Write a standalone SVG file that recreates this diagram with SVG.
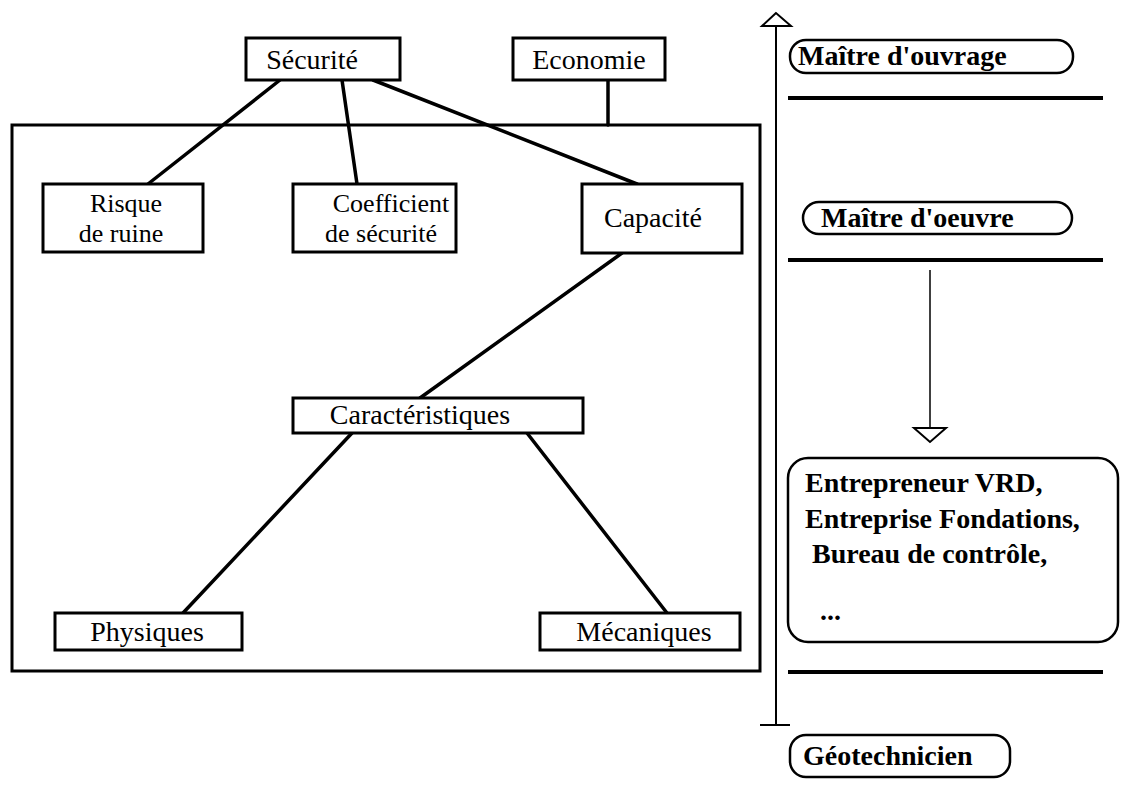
<svg xmlns="http://www.w3.org/2000/svg" width="1121" height="809" viewBox="0 0 1121 809">
<style>
.box{fill:#fff;stroke:#000;stroke-width:3}
.t{font-family:"Liberation Serif","Times New Roman",serif;font-size:28px;fill:#000}
.t2{font-family:"Liberation Serif","Times New Roman",serif;font-size:26px;fill:#000}
.b{font-family:"Liberation Serif","Times New Roman",serif;font-size:28px;font-weight:bold;fill:#000}
.ln{stroke:#000;stroke-width:3.5;fill:none;stroke-linecap:round}
.sep{stroke:#000;stroke-width:4;fill:none}
.pill{fill:#fff;stroke:#000;stroke-width:2.5}
</style>
<rect width="1121" height="809" fill="#fff"/>
<rect id="frame" x="12" y="125" width="748" height="546" fill="none" stroke="#000" stroke-width="3"/>
<g id="connectors">
<line class="ln" x1="280" y1="80" x2="148" y2="184"/>
<line class="ln" x1="342" y1="80" x2="357" y2="184"/>
<line class="ln" x1="373" y1="80" x2="637" y2="184"/>
<line class="ln" x1="608" y1="80" x2="608" y2="125"/>
<line class="ln" x1="622" y1="253" x2="420" y2="398"/>
<line class="ln" x1="352" y1="433" x2="183" y2="613"/>
<line class="ln" x1="527" y1="433" x2="667" y2="613"/>
</g>
<g id="securite"><rect class="box" x="246" y="38" width="154" height="42"/><text class="t" x="312" y="69" text-anchor="middle">Sécurité</text></g>
<g id="economie"><rect class="box" x="513" y="38" width="152" height="42"/><text class="t" x="589" y="69" text-anchor="middle">Economie</text></g>
<g id="risque"><rect class="box" x="43" y="184" width="160" height="68"/><text class="t2" x="126" y="212" text-anchor="middle">Risque</text><text class="t2" x="121" y="242" text-anchor="middle">de ruine</text></g>
<g id="coefficient"><rect class="box" x="293" y="184" width="163" height="68"/><text class="t2" x="391" y="212" text-anchor="middle">Coefficient</text><text class="t2" x="381" y="242" text-anchor="middle">de sécurité</text></g>
<g id="capacite"><rect class="box" x="582" y="184" width="160" height="69"/><text class="t" x="653" y="227" text-anchor="middle">Capacité</text></g>
<g id="caracteristiques"><rect class="box" x="293" y="398" width="290" height="35"/><text class="t" x="420" y="424" text-anchor="middle">Caractéristiques</text></g>
<g id="physiques"><rect class="box" x="55" y="613" width="187" height="37"/><text class="t" x="147" y="641" text-anchor="middle">Physiques</text></g>
<g id="mecaniques"><rect class="box" x="540" y="613" width="200" height="37"/><text class="t" x="644" y="641" text-anchor="middle">Mécaniques</text></g>
<g id="axis">
<line x1="776" y1="27" x2="776" y2="725" stroke="#000" stroke-width="2"/>
<polygon points="776,13 762,26 791,26" fill="#fff" stroke="#000" stroke-width="2"/>
<line x1="760" y1="725" x2="790" y2="725" stroke="#000" stroke-width="2"/>
</g>
<g id="maitre-ouvrage"><rect class="pill" x="790" y="40" width="283" height="33" rx="16"/><text class="b" x="798" y="65">Maître d'ouvrage</text></g>
<line class="sep" x1="788" y1="98" x2="1103" y2="98"/>
<g id="maitre-oeuvre"><rect class="pill" x="803" y="202" width="269" height="32" rx="16"/><text class="b" x="821" y="227">Maître d'oeuvre</text></g>
<line class="sep" x1="788" y1="260" x2="1103" y2="260"/>
<g id="flow">
<line x1="930" y1="270" x2="930" y2="428" stroke="#000" stroke-width="1.5"/>
<polygon points="914,428 946,428 930,442" fill="#fff" stroke="#000" stroke-width="2"/>
</g>
<g id="entreprises"><rect class="pill" x="788" y="458" width="330" height="184" rx="20"/>
<text class="b" x="805" y="492">Entrepreneur VRD,</text>
<text class="b" x="805" y="528">Entreprise Fondations,</text>
<text class="b" x="812" y="563">Bureau de contrôle,</text>
<text class="b" x="820" y="620">...</text></g>
<line class="sep" x1="788" y1="672" x2="1103" y2="672"/>
<g id="geotechnicien"><rect class="pill" x="790" y="735" width="220" height="42" rx="16"/><text class="b" x="803" y="765">Géotechnicien</text></g>
</svg>
